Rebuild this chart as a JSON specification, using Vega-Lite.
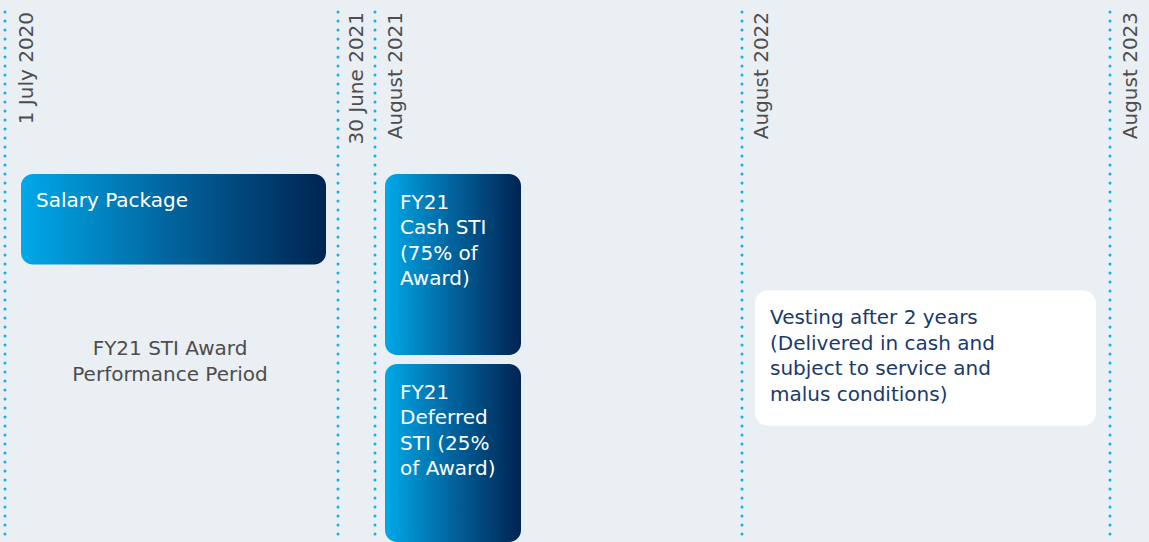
{
  "$schema": "https://vega.github.io/schema/vega-lite/v6.json",
  "width": 1149,
  "height": 542,
  "autosize": {"type": "fit", "contains": "padding"},
  "padding": 0,
  "background": "#eaeff3",
  "config": {"view": {"stroke": null}, "font": "DejaVu Sans"},
  "datasets": {
    "dates": [
      {"x": 5, "lx": 27, "label": "1 July 2020"},
      {"x": 338, "lx": 357, "label": "30 June 2021"},
      {"x": 375, "lx": 396, "label": "August 2021"},
      {"x": 742, "lx": 762, "label": "August 2022"},
      {"x": 1110, "lx": 1131, "label": "August 2023"}
    ],
    "boxes": [
      {"name": "Salary", "x": 21, "x2": 326, "y": 175, "y2": 266},
      {"name": "Cash", "x": 385, "x2": 521, "y": 175, "y2": 357},
      {"name": "Deferred", "x": 385, "x2": 521, "y": 366, "y2": 545}
    ],
    "white": [
      {"name": "Vesting", "x": 755, "x2": 1096, "y": 292, "y2": 428}
    ],
    "whiteText": [
      {"x": 36, "y": 208, "text": "Salary Package"},
      {"x": 400, "y": 210, "text": "FY21\nCash STI\n(75% of\nAward)"},
      {"x": 400, "y": 401, "text": "FY21\nDeferred\nSTI (25%\nof Award)"}
    ],
    "grayText": [
      {"x": 170, "y": 357, "text": "FY21 STI Award\nPerformance Period"}
    ],
    "navyText": [
      {"x": 770, "y": 326, "text": "Vesting after 2 years\n(Delivered in cash and\nsubject to service and\nmalus conditions)"}
    ]
  },
  "layer": [
    {
      "data": {"name": "dates"},
      "mark": {"type": "rule", "color": "#12b1ec", "strokeWidth": 3, "strokeCap": "round", "strokeDash": [0.1, 8.9]},
      "encoding": {
        "x": {"field": "x", "type": "quantitative", "scale": {"domain": [0, 1149], "nice": false, "zero": false}, "axis": null},
        "y": {"datum": 12, "type": "quantitative", "scale": {"domain": [0, 542], "reverse": true, "nice": false, "zero": false}, "axis": null},
        "y2": {"datum": 542}
      }
    },
    {
      "data": {"name": "dates"},
      "mark": {"type": "text", "angle": 270, "align": "right", "baseline": "middle", "fontSize": 20, "color": "#4d4d4f"},
      "encoding": {
        "x": {"field": "lx", "type": "quantitative"},
        "y": {"datum": 12, "type": "quantitative"},
        "text": {"field": "label"}
      }
    },
    {
      "data": {"name": "boxes"},
      "mark": {"type": "rect", "cornerRadius": 12, "color": {"gradient": "linear", "x1": 0, "x2": 1, "y1": 0, "y2": 0, "stops": [{"offset": 0, "color": "#00a9e9"}, {"offset": 0.5, "color": "#02629c"}, {"offset": 1, "color": "#002452"}]}},
      "encoding": {
        "x": {"field": "x", "type": "quantitative"},
        "x2": {"field": "x2"},
        "y": {"field": "y", "type": "quantitative"},
        "y2": {"field": "y2"}
      }
    },
    {
      "data": {"name": "white"},
      "mark": {"type": "rect", "cornerRadius": 13, "color": "#ffffff"},
      "encoding": {
        "x": {"field": "x", "type": "quantitative"},
        "x2": {"field": "x2"},
        "y": {"field": "y", "type": "quantitative"},
        "y2": {"field": "y2"}
      }
    },
    {
      "data": {"name": "whiteText"},
      "mark": {"type": "text", "align": "left", "baseline": "alphabetic", "fontSize": 20, "lineHeight": 25.5, "lineBreak": "\n", "color": "#ffffff"},
      "encoding": {
        "x": {"field": "x", "type": "quantitative"},
        "y": {"field": "y", "type": "quantitative"},
        "text": {"field": "text"}
      }
    },
    {
      "data": {"name": "grayText"},
      "mark": {"type": "text", "align": "center", "baseline": "alphabetic", "fontSize": 20, "lineHeight": 25.5, "lineBreak": "\n", "color": "#4d4d4f"},
      "encoding": {
        "x": {"field": "x", "type": "quantitative"},
        "y": {"field": "y", "type": "quantitative"},
        "text": {"field": "text"}
      }
    },
    {
      "data": {"name": "navyText"},
      "mark": {"type": "text", "align": "left", "baseline": "alphabetic", "fontSize": 20, "lineHeight": 25.5, "lineBreak": "\n", "color": "#1a3a6a"},
      "encoding": {
        "x": {"field": "x", "type": "quantitative"},
        "y": {"field": "y", "type": "quantitative"},
        "text": {"field": "text"}
      }
    }
  ]
}
